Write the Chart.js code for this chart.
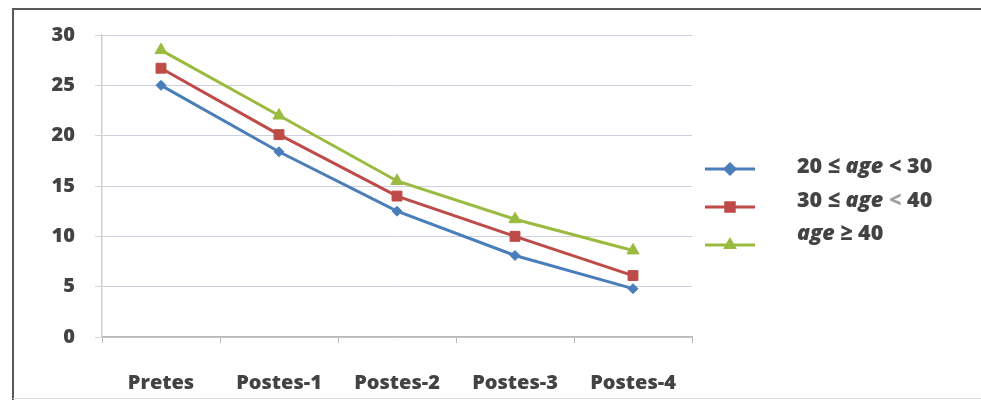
<!DOCTYPE html>
<html>
<head>
<meta charset="utf-8">
<script src="https://cdn.jsdelivr.net/npm/chart.js@4/dist/chart.umd.min.js"></script>
<style>
  html, body { margin: 0; padding: 0; background: #ffffff; }
  #wrap { position: relative; width: 981px; height: 400px; }
</style>
</head>
<body>
<div id="wrap"><canvas id="c" width="981" height="400"></canvas></div>
<script>
// Test phases and mean scores per age group
const categories = ['Pretes', 'Postes-1', 'Postes-2', 'Postes-3', 'Postes-4'];
const age20to30 = [25.0, 18.4, 12.5, 8.1, 4.8];
const age30to40 = [26.7, 20.1, 14.0, 10.0, 6.1];
const age40plus = [28.5, 22.0, 15.5, 11.7, 8.6];
const yTicks = [0, 5, 10, 15, 20, 25, 30];

// Legend entries: text split into runs [text, italic, colour]
const legendEntries = [
  { runs: [['20 ≤ ', false], ['age', true], [' < 30', false]] },
  { runs: [['30 ≤ ', false], ['age', true], [' ', false], ['<', false, '#a0a0a0'], [' 40', false]] },
  { runs: [['age', true], [' ≥ 40', false]] }
];

const FONT = '"Open Sans", Lato, sans-serif';
const TEXT = '#434343';
const colors = ['#4a7ebb', '#be4b48', '#9bbb40'];
const styles = ['rectRot', 'rect', 'triangle'];
const radii = [5, 7, 7];

const series = [age20to30, age30to40, age40plus];

const datasets = series.map((d, i) => ({
  data: d,
  borderColor: colors[i],
  backgroundColor: colors[i],
  borderWidth: 3,
  pointStyle: styles[i],
  pointRadius: radii[i],
  pointBorderWidth: 1,
  tension: 0
}));

// Frame around the figure and the custom legend on the right
const decor = {
  id: 'decor',
  afterDraw(chart) {
    const ctx = chart.ctx;
    ctx.save();
    ctx.strokeStyle = '#5a5a5a';
    ctx.lineWidth = 2;
    ctx.beginPath();
    ctx.moveTo(13, 400);
    ctx.lineTo(13, 9);
    ctx.lineTo(981, 9);
    ctx.stroke();
    ctx.strokeStyle = '#dddddd';
    ctx.lineWidth = 1;
    ctx.beginPath();
    ctx.moveTo(13, 398.5);
    ctx.lineTo(981, 398.5);
    ctx.stroke();

    const markerY = [169, 207, 245];
    const textY = [167, 201, 234];
    const markerR = [5, 6, 5];
    legendEntries.forEach((e, i) => {
      ctx.strokeStyle = colors[i];
      ctx.lineWidth = 3;
      ctx.beginPath();
      ctx.moveTo(705, markerY[i]);
      ctx.lineTo(755, markerY[i]);
      ctx.stroke();
      ctx.fillStyle = colors[i];
      Chart.helpers.drawPoint(ctx, {
        pointStyle: styles[i], radius: markerR[i], borderWidth: 1
      }, 730, markerY[i]);
      let x = 797;
      ctx.textBaseline = 'middle';
      ctx.textAlign = 'left';
      e.runs.forEach(([t, it, col]) => {
        ctx.fillStyle = col || TEXT;
        ctx.font = (it ? 'italic ' : '') + '800 21.5px ' + FONT;
        ctx.fillText(t, x, textY[i]);
        x += ctx.measureText(t).width;
      });
    });
    ctx.restore();
  }
};

new Chart(document.getElementById('c'), {
  type: 'line',
  data: { labels: categories, datasets },
  plugins: [decor],
  options: {
    responsive: false,
    animation: false,
    layout: { padding: { left: 0, right: 289, top: 35, bottom: 0 } },
    plugins: { legend: { display: false }, tooltip: { enabled: false } },
    scales: {
      x: {
        offset: true,
        grid: {
          offset: true,
          drawOnChartArea: false,
          tickLength: 6,
          color: '#b8b8b8'
        },
        border: { color: '#b8b8b8', width: 1.5 },
        ticks: {
          color: TEXT,
          font: { family: FONT, size: 20, weight: '800' },
          padding: 28
        },
        afterFit(s) { s.height = 63; }
      },
      y: {
        min: 0,
        max: 30,
        afterBuildTicks(s) { s.ticks = yTicks.map(v => ({ value: v })); },
        grid: {
          color: '#ccd1dd',
          tickColor: '#d6d6d6',
          tickLength: 7,
          borderDash: [2, 1]
        },
        border: { color: '#d0d0d0', width: 1.5 },
        ticks: {
          color: TEXT,
          font: { family: FONT, size: 20, weight: '800' },
          padding: 20
        },
        afterFit(s) { s.width = 102; }
      }
    }
  }
});
</script>
</body>
</html>
